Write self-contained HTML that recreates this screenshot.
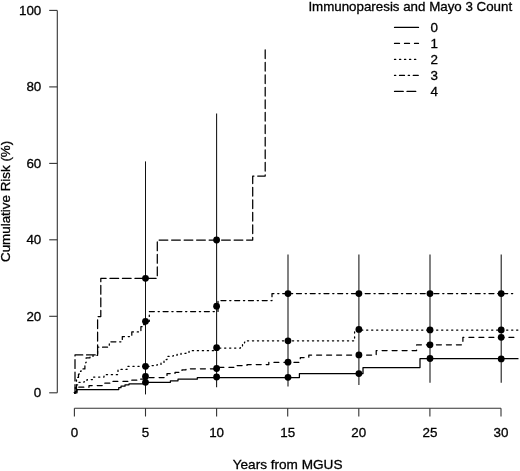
<!DOCTYPE html>
<html><head><meta charset="utf-8"><title>Cumulative Risk</title><style>
html,body{margin:0;padding:0;background:#fff;width:520px;height:471px;overflow:hidden;}
svg{display:block;will-change:transform;}
text{font-family:"Liberation Sans",sans-serif;fill:#000;stroke:#000;stroke-width:0.3px;}
</style></head><body>
<svg width="520" height="471" viewBox="0 0 520 471">
<rect width="520" height="471" fill="#fff"/>
<g stroke="#333" stroke-width="1.1" fill="none">
<path d="M57.3 10.4V392.8"/>
<path d="M49.2 392.8H57.3"/>
<path d="M49.2 316.3H57.3"/>
<path d="M49.2 239.8H57.3"/>
<path d="M49.2 163.4H57.3"/>
<path d="M49.2 86.9H57.3"/>
<path d="M49.2 10.4H57.3"/>
<path d="M74.4 408.2H501.0"/>
<path d="M74.4 408.2V416.5"/>
<path d="M145.5 408.2V416.5"/>
<path d="M216.6 408.2V416.5"/>
<path d="M287.7 408.2V416.5"/>
<path d="M358.8 408.2V416.5"/>
<path d="M429.9 408.2V416.5"/>
<path d="M501.0 408.2V416.5"/>
</g>
<g font-size="13.4" text-anchor="end">
<text x="41.3" y="397.3">0</text>
<text x="41.3" y="320.8">20</text>
<text x="41.3" y="244.3">40</text>
<text x="41.3" y="167.9">60</text>
<text x="41.3" y="91.4">80</text>
<text x="41.3" y="14.9">100</text>
</g>
<g font-size="13.4" text-anchor="middle">
<text x="74.4" y="437">0</text>
<text x="145.5" y="437">5</text>
<text x="216.6" y="437">10</text>
<text x="287.7" y="437">15</text>
<text x="358.8" y="437">20</text>
<text x="429.9" y="437">25</text>
<text x="501.0" y="437">30</text>
</g>
<text x="287.6" y="468.9" font-size="13.6" text-anchor="middle">Years from MGUS</text>
<text transform="translate(10.4 201.4) rotate(-90)" font-size="13.4" text-anchor="middle">Cumulative Risk (%)</text>
<g stroke="#111" stroke-width="1.05" fill="none">
<path d="M145.5 394.4V161.4"/>
<path d="M216.6 387.3V113.4"/>
<path d="M288 386.5V254.4"/>
<path d="M358.9 385V254.4"/>
<path d="M430 382.8V254.4"/>
<path d="M501.2 382.8V254.4"/>
</g>
<g fill="none" stroke="#000" stroke-width="1.25" stroke-linejoin="round" stroke-linecap="round">
<path d="M74.4 392.8H75.3V391.3H76.8V389.5H118.75V387.7H121V386.2H125V384.8H129V383.9H145.5V382.3H170.4V380.8H178V379.2H197.3V377.5H299.4V373.6H363V367.6H420V358.7H518"/>
<path d="M74.4 392.8H77V387.2H89V385.6H103.5V383.2H113V381.3H130.5V380.2H140V379H145.5V377.5H167V373.6H175V372.3H182V369.8H186V368.8H216.6V367.3H237V365.5H247V364.6H268.8V362.3H300.3V357.5H308.8V355H376.2V350.5H416.6V344.8H462.9V337.3H515" stroke-dasharray="5 5"/>
<path d="M74.4 392.8H75.3V384.8H78.5V382.3H84V381.5H87V379.6H93V377H104V374.7H118V369.4H127V366.3H152V365.5H157V364.5H161V362.5H164V359.5H167V356.3H173V355.6H177V354.4H181V353.3H186V352.5H189V351.3H192V350.7H216.6V348H240.5V346H242.5V344H244.5V342H246.5V340.8H354.6V330H519" stroke-dasharray="1.25 3.75"/>
<path d="M74.4 392.8H76.5V377.4H78.5V374H79.3V371.4H81V368.9H84.9V365.5H85.7V362.5H86.1V357.8H90V357H93V355.3H97.6V352.6V347.2H109.3V341.8H122.3V336.6H131.8V331.9H140.9V326.7H143V324.5H145.5V321.3H149.3V311.5H218V300.6H272V293.6H513.3" stroke-dasharray="1.25 3.75 5 3.75"/>
<path d="M74.4 392.8H75V354.9H97.6V316.5H100.8V278.3H157.3V240H252.7V176.1H265.2V49.3" stroke-dasharray="8.75 3.75"/>
</g>
<g fill="#000">
<circle cx="145.5" cy="278.3" r="3.4"/>
<circle cx="145.5" cy="321.3" r="3.4"/>
<circle cx="145.5" cy="366.3" r="3.4"/>
<circle cx="145.5" cy="376.5" r="3.4"/>
<circle cx="145.5" cy="382.3" r="3.4"/>
<circle cx="216.6" cy="240" r="3.4"/>
<circle cx="216.6" cy="306.2" r="3.4"/>
<circle cx="216.6" cy="347.7" r="3.4"/>
<circle cx="216.6" cy="368.5" r="3.4"/>
<circle cx="216.6" cy="377" r="3.4"/>
<circle cx="288" cy="293.6" r="3.4"/>
<circle cx="288" cy="340.8" r="3.4"/>
<circle cx="288" cy="362.2" r="3.4"/>
<circle cx="288" cy="377.3" r="3.4"/>
<circle cx="358.9" cy="293.6" r="3.4"/>
<circle cx="358.9" cy="329.4" r="3.4"/>
<circle cx="358.9" cy="354.9" r="3.4"/>
<circle cx="358.9" cy="373.6" r="3.4"/>
<circle cx="430" cy="293.6" r="3.4"/>
<circle cx="430" cy="329.9" r="3.4"/>
<circle cx="430" cy="344.8" r="3.4"/>
<circle cx="430" cy="358.5" r="3.4"/>
<circle cx="501.2" cy="293.6" r="3.4"/>
<circle cx="501.2" cy="329.9" r="3.4"/>
<circle cx="501.2" cy="337.3" r="3.4"/>
<circle cx="501.2" cy="358.9" r="3.4"/>
</g>
<text x="308.4" y="11" font-size="13.33">Immunoparesis and Mayo 3 Count</text>
<g fill="none" stroke="#000" stroke-width="1.25" stroke-linecap="round">
<path d="M394.5 27.4H418.5"/>
<path d="M394.5 43.4H418.5" stroke-dasharray="5 5"/>
<path d="M394.5 59.4H418.5" stroke-dasharray="1.25 3.75"/>
<path d="M394.5 75.4H418.5" stroke-dasharray="1.25 3.75 5 3.75"/>
<path d="M394.5 91.4H418.5" stroke-dasharray="8.75 3.75"/>
</g>
<g font-size="13.4">
<text x="430.5" y="31.9">0</text>
<text x="430.5" y="47.9">1</text>
<text x="430.5" y="63.9">2</text>
<text x="430.5" y="79.9">3</text>
<text x="430.5" y="95.9">4</text>
</g>
</svg>
</body></html>
